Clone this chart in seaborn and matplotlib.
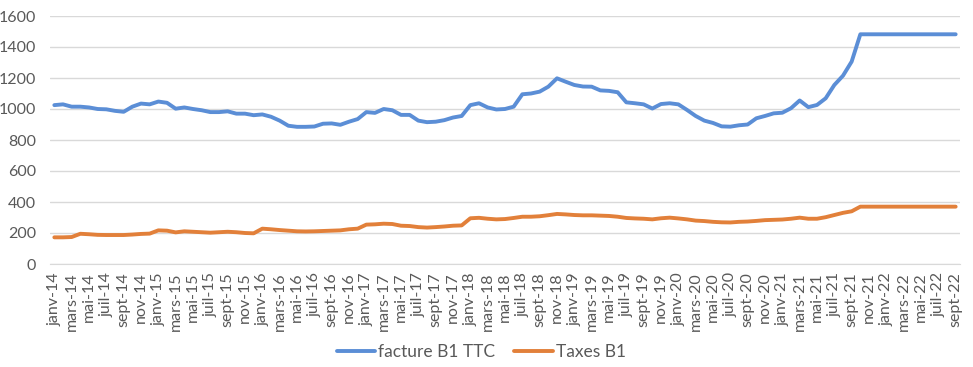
import pandas as pd
import seaborn as sns
import matplotlib.pyplot as plt

sns.set_style('white')
plt.rcParams['font.family'] = ['Lato', 'DejaVu Sans']

# monthly values, janv-14 .. sept-22
facture = [1025, 1030, 1015, 1015, 1010, 1000, 998, 988, 982, 1015, 1035, 1030,
           1048, 1040, 1002, 1010, 1000, 992, 980, 980, 985, 970, 970, 960,
           965, 950, 925, 892, 885, 885, 887, 905, 907, 898, 918, 935,
           980, 975, 1000, 992, 962, 962, 925, 915, 918, 928, 945, 955,
           1025, 1037, 1010, 997, 1000, 1015, 1095, 1100, 1112, 1144, 1198, 1176,
           1155, 1145, 1144, 1120, 1117, 1108, 1043, 1037, 1030, 1003, 1032, 1037,
           1030, 994, 955, 925, 910, 888, 886, 895, 900, 940, 955, 972,
           976, 1005, 1055, 1012, 1026, 1069, 1155, 1215, 1306, 1482, 1482, 1482,
           1482, 1482, 1482, 1482, 1482, 1482, 1482, 1482, 1482]
taxes = [172, 172, 174, 195, 192, 188, 187, 187, 187, 190, 194, 196,
         217, 215, 204, 211, 208, 205, 202, 205, 208, 205, 200, 198,
         228, 224, 219, 215, 211, 210, 211, 213, 215, 217, 224, 228,
         254, 256, 260, 258, 247, 245, 238, 235, 238, 242, 247, 249,
         295, 298, 292, 288, 290, 297, 305, 305, 308, 315, 323, 320,
         316, 314, 314, 312, 310, 305, 297, 294, 292, 288, 295, 299,
         294, 288, 280, 277, 272, 269, 268, 272, 274, 278, 283, 285,
         287, 292, 299, 292, 292, 302, 316, 330, 340, 370, 370, 370,
         370, 370, 370, 370, 370, 370, 370, 370, 370]

mois = ['janv', 'févr', 'mars', 'avr', 'mai', 'juin',
        'juil', 'août', 'sept', 'oct', 'nov', 'déc']
annees = ['14', '15', '16', '17', '18', '19', '20', '21', '22']

labels = [f'{m}-{a}' for a in annees for m in mois][:len(facture)]
idx = list(range(len(facture)))

df = pd.DataFrame({
    'mois': idx * 2,
    'valeur': facture + taxes,
    'serie': ['facture B1 TTC'] * len(idx) + ['Taxes B1'] * len(idx),
})

fig, ax = plt.subplots(figsize=(9.73, 3.67), dpi=100)
fig.subplots_adjust(left=50 / 973, right=960 / 973, top=1 - 16 / 367, bottom=1 - 264 / 367)

sns.lineplot(data=df, x='mois', y='valeur', hue='serie',
             palette=['#5B8ED6', '#E2803A'], linewidth=2.8, ax=ax, legend=True)

ax.set_xlim(-0.5, len(idx) - 0.5)
ax.set_ylim(0, 1600)
ax.set_yticks(range(0, 1601, 200))
ax.yaxis.grid(True, color='#D9D9D9', linewidth=1)
ax.set_axisbelow(True)

ax.set_xticks(idx[::2])
ax.set_xticklabels(labels[::2], rotation=90)
ax.set_xticks([i - 0.5 for i in idx] + [len(idx) - 0.5], minor=True)
ax.tick_params(axis='x', which='major', length=0, pad=6, labelsize=11.5, labelcolor='#595959')
ax.tick_params(axis='x', which='minor', direction='inout', length=7, color='#D9D9D9', width=1)
ax.tick_params(axis='y', length=0, labelsize=11.5, labelcolor='#595959', pad=10)

for s in ['top', 'right', 'left']:
    ax.spines[s].set_visible(False)
ax.spines['bottom'].set_color('#D9D9D9')

ax.set_xlabel('')
ax.set_ylabel('')

leg = ax.legend(loc='center', bbox_to_anchor=(0.474, -0.355), ncol=2,
                frameon=False, fontsize=12.5, handlelength=2.2, columnspacing=1.1,
                handletextpad=0.2)
for t in leg.get_texts():
    t.set_color('#595959')

fig.savefig('out.png', dpi=100)
